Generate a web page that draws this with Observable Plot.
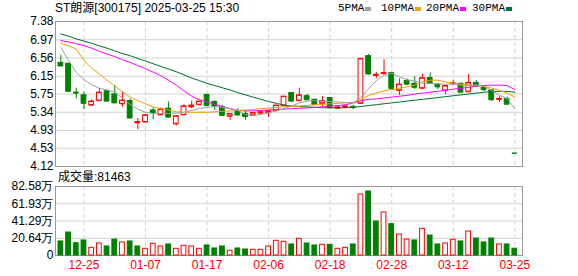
<!DOCTYPE html>
<html><head><meta charset="utf-8">
<script src="https://cdn.jsdelivr.net/npm/d3@7"></script>
<script src="https://cdn.jsdelivr.net/npm/@observablehq/plot@0.6"></script>
<style>
body{margin:0;background:#fff;}
#wrap{position:relative;width:578px;height:276px;font-family:"Liberation Sans",Arial,"Noto Sans CJK SC",sans-serif;}
#wrap svg{position:absolute;left:0;}
.t{position:absolute;font-size:12px;line-height:16px;white-space:nowrap;color:#000;}
.lg{font-family:"Liberation Mono","DejaVu Sans Mono",monospace;font-size:11px;}
.sw{position:absolute;width:6px;height:4px;}
</style></head><body><div id="wrap"></div>
<script>
const title = "ST朗源[300175] 2025-03-25 15:30";
const volLabel = "成交量:81463";
const maNames = ["5PMA","10PMA","20PMA","30PMA"];
const open  = [6.45,6.43,5.78,5.72,5.50,5.60,5.81,5.74,5.53,5.59, 5.10,5.12,5.38,5.28,5.42,5.08,5.28,5.46,5.51,5.73, 5.57,5.45,5.25,5.36,5.30,5.27,5.32,5.33,5.38,5.49, 5.77,5.60,5.70,5.62,5.54,5.66,5.43,5.45,5.46,5.54, 6.60,6.17,6.21,6.22,5.83,6.04,5.98,5.88,6.11,5.96, 5.83,5.98,5.98,5.80,6.00,5.89,5.83,5.63,5.63,4.42];
const high  = [6.62,6.43,5.88,5.79,5.62,5.87,5.84,5.94,5.79,5.64, 5.20,5.28,5.44,5.44,5.57,5.26,5.51,5.59,5.59,5.74, 5.60,5.49,5.31,5.42,5.36,5.34,5.37,5.38,5.50,5.69, 5.77,5.88,5.74,5.63,5.69,5.67,5.48,5.49,5.50,6.55, 6.64,6.24,6.52,6.24,6.09,6.09,6.14,6.19,6.22,5.97, 5.93,6.05,5.99,6.19,6.05,5.89,5.83,5.69,5.68,4.42];
const low   = [6.37,5.81,5.64,5.40,5.48,5.59,5.57,5.54,5.45,5.21, 4.95,5.11,5.17,5.28,5.22,5.03,5.28,5.42,5.50,5.47, 5.38,5.245,5.155,5.24,5.16,5.25,5.28,5.22,5.36,5.48, 5.56,5.59,5.61,5.50,5.45,5.42,5.40,5.42,5.40,5.52, 6.17,6.09,6.17,5.83,5.72,5.94,5.845,5.86,5.99,5.845, 5.74,5.94,5.78,5.80,5.90,5.81,5.58,5.56,5.52,4.42];
const close = [6.38,5.81,5.77,5.54,5.58,5.78,5.59,5.55,5.60,5.21, 5.12,5.27,5.33,5.40,5.23,5.25,5.47,5.49,5.58,5.49, 5.47,5.27,5.30,5.28,5.24,5.32,5.34,5.36,5.49,5.69, 5.59,5.72,5.62,5.51,5.59,5.44,5.45,5.47,5.45,6.54, 6.20,6.18,6.22,5.87,5.96,5.97,5.90,6.105,5.99,5.91, 5.93,5.99,5.79,6.00,5.925,5.845,5.62,5.64,5.52,4.42];
const volume = [168000,275000,147000,180000,92000,144000,108000,191000,156000,168000, 108000,80000,140000,108000,132000,80000,116000,108000,80000,120000, 84000,108000,56000,84000,72000,68000,68000,108000,176000,164000, 132000,200000,144000,120000,128000,128000,80000,92000,132000,730000, 766000,407000,515000,375000,251000,191000,180000,319000,239000,132000, 144000,188000,168000,287000,203000,156000,203000,132000,132000,81463];
const ma5  = [6.80,6.50,6.24,6.07,5.96,5.88,5.84,5.79,5.66,5.51, 5.41,5.34,5.31,5.31,5.31,5.32,5.34,5.38,5.42,5.45, 5.47,5.45,5.42,5.38,5.29,5.27,5.29,5.33,5.37,5.42, 5.48,5.55,5.59,5.60,5.59,5.58,5.57,5.56,5.55,5.67, 5.87,6.05,6.17,6.22,6.13,6.07,6.04,6.00,5.99,5.98, 5.97,5.97,5.95,5.94,5.95,5.92,5.83,5.72,5.65,5.42];
const ma10 = [6.89,6.83,6.76,6.50,6.33,6.20,6.06,5.93,5.80,5.68, 5.60,5.53,5.46,5.42,5.39,5.35,5.34,5.34,5.34,5.34, 5.35,5.36,5.37,5.38,5.39,5.40,5.42,5.43,5.45,5.46, 5.47,5.48,5.49,5.51,5.52,5.53,5.54,5.55,5.56,5.63, 5.72,5.77,5.82,5.85,5.88,5.91,5.95,6.02,6.06,6.06, 6.02,5.99,5.97,5.96,5.94,5.92,5.88,5.83,5.77,5.68];
const ma20 = [6.95,6.92,6.88,6.84,6.78,6.71,6.65,6.59,6.52,6.46, 6.39,6.32,6.24,6.16,6.06,5.95,5.82,5.70,5.62,5.57, 5.52,5.47,5.42,5.38,5.37,5.37,5.38,5.39,5.40,5.41, 5.42,5.43,5.44,5.45,5.46,5.48,5.49,5.51,5.55,5.60, 5.63,5.64,5.66,5.68,5.70,5.72,5.75,5.77,5.79,5.81, 5.83,5.86,5.88,5.90,5.93,5.94,5.95,5.95,5.94,5.85];
const ma30 = [7.10,7.05,6.99,6.94,6.89,6.83,6.78,6.72,6.66,6.61, 6.55,6.49,6.43,6.37,6.31,6.25,6.18,6.11,6.05,5.99, 5.94,5.89,5.84,5.78,5.73,5.68,5.63,5.58,5.54,5.50, 5.48,5.47,5.46,5.45,5.44,5.44,5.44,5.44,5.45,5.47, 5.49,5.51,5.53,5.55,5.57,5.59,5.61,5.63,5.65,5.67, 5.69,5.71,5.73,5.75,5.77,5.79,5.80,5.81,5.81,5.79];
const priceTicks = [4.12,4.53,4.93,5.34,5.75,6.15,6.56,6.97,7.38];
const volTicks = [0,206450,412900,619350,825800];
const volTickLabels = ["0","20.64万","41.29万","61.93万","82.58万"];
const xTickIndex = [3,11,19,27,35,43,51,59];
const xTickLabels = ["12-25","01-07","01-17","02-06","02-18","02-28","03-12","03-25"];

const RED = "#ff0000", GREEN = "#008000";
const maColors = ["#a0a0a0","#f0a000","#ff00ff","#006f2e"];
const mas = [ma5, ma10, ma20, ma30];
const n = close.length;
const idx = d3.range(n);
const bars = idx.map(i => ({
  i, o: open[i], h: high[i], l: low[i], c: close[i], v: volume[i],
  up: close[i] > open[i] || (close[i] === open[i] && i > 0 && close[i] > close[i-1]),
  vup: i === 0 ? close[i] >= open[i] : close[i] > close[i-1]
}));
const hw = 0.31;
const xs = {type: "linear", domain: [-0.7, 60], axis: null};
const font = {fontFamily: '"Liberation Sans",Arial,sans-serif', fontSize: "12px", background: "transparent", overflow: "visible"};
const col = d => d.up ? RED : GREEN;

const main = Plot.plot({
  width: 578, height: 170, marginLeft: 55, marginRight: 56, marginTop: 21, marginBottom: 4,
  x: xs, y: {domain: [4.12, 7.38], axis: null}, style: font,
  marks: [
    Plot.ruleY(priceTicks, {stroke: "#d3d3d3"}),
    Plot.ruleX(xTickIndex, {stroke: "#d3d3d3", strokeDasharray: "4,3"}),
    Plot.frame({stroke: "#999"}),
    Plot.ruleX(bars, {x: "i", y1: "l", y2: "h", stroke: col}),
    Plot.rect(bars, {x1: d => d.i - hw, x2: d => d.i + hw,
      y1: d => Math.min(d.o, d.c), y2: d => Math.max(d.o, d.c),
      fill: d => d.up ? "#ffffff" : GREEN, stroke: col}),
    Plot.ruleY(bars, {y: "c", x1: d => d.i - hw, x2: d => d.i + hw, stroke: col}),
    Plot.ruleY(bars, {y: "o", x1: d => d.i - hw, x2: d => d.i + hw, stroke: col}),
    ...[3,2,1,0].map(k => Plot.line(idx, {x: i => i, y: i => mas[k][i], stroke: maColors[k], strokeWidth: 1})),
    Plot.axisY(priceTicks, {tickSize: 0, tickPadding: 2, tickFormat: d => d.toFixed(2), color: "#000", label: null})
  ]
});

const vol = Plot.plot({
  width: 578, height: 106, marginLeft: 55, marginRight: 56, marginTop: 16, marginBottom: 21,
  x: xs, y: {domain: [0, 825800], axis: null}, style: font,
  marks: [
    Plot.ruleY(volTicks, {stroke: "#d3d3d3"}),
    Plot.ruleX(xTickIndex, {stroke: "#d3d3d3", strokeDasharray: "4,3"}),
    Plot.frame({stroke: "#999"}),
    Plot.rect(bars, {x1: d => d.i - hw, x2: d => d.i + hw, y1: 0, y2: "v",
      fill: d => d.vup ? "#ffffff" : GREEN, stroke: d => d.vup ? RED : GREEN}),
    Plot.axisY(volTicks, {tickSize: 0, tickPadding: 2, tickFormat: d => volTickLabels[volTicks.indexOf(d)], color: "#000", label: null}),
    Plot.axisX(xTickIndex, {tickSize: 0, tickPadding: 5, tickFormat: d => xTickLabels[xTickIndex.indexOf(d)], color: RED, label: null})
  ]
});

const wrap = document.getElementById("wrap");
main.style.top = "0px";
vol.style.top = "170px";
wrap.appendChild(main);
wrap.appendChild(vol);

function addText(txt, left, top, cls) {
  const el = document.createElement("div");
  el.className = "t" + (cls ? " " + cls : ""); el.textContent = txt;
  el.style.left = left + "px"; el.style.top = top + "px";
  wrap.appendChild(el); return el;
}
addText(title, 55, 0);
addText(volLabel, 58, 169);
const legX = [338, 381, 426, 472];
maNames.forEach((nm, k) => {
  const el = addText(nm, legX[k], 0, "lg");
  const sw = document.createElement("div");
  sw.className = "sw";
  sw.style.background = maColors[k];
  sw.style.left = (legX[k] + el.offsetWidth + 1) + "px";
  sw.style.top = "7px";
  wrap.appendChild(sw);
});
</script></body></html>
